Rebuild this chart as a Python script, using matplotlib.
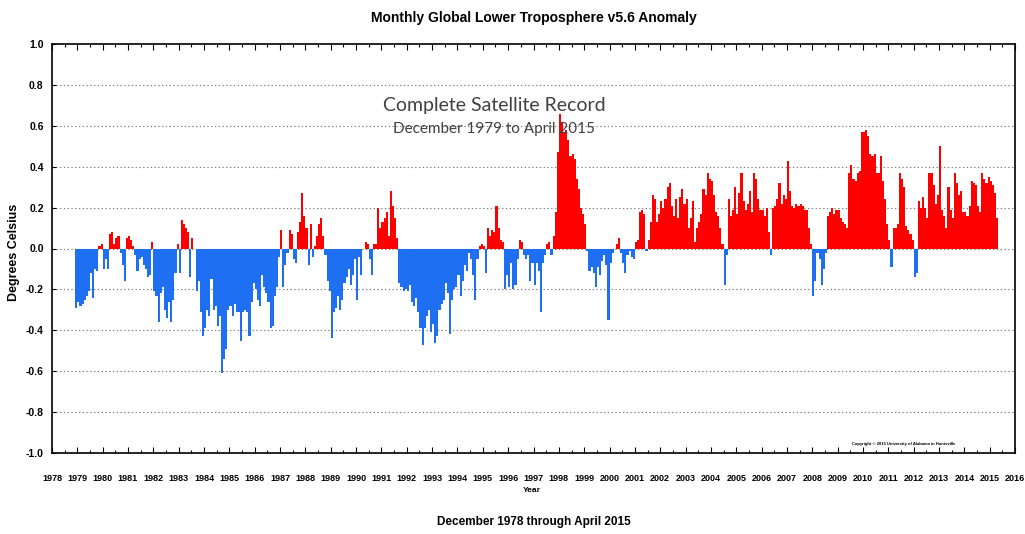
import matplotlib
matplotlib.use("Agg")
import matplotlib.pyplot as plt
import numpy as np
from matplotlib import font_manager

# monthly anomalies (deg C), Dec 1978 .. Apr 2015
anom_1970s = [-0.29,
              -0.26, -0.28, -0.27, -0.25, -0.23, -0.21, -0.12, -0.24, -0.10, -0.11, 0.01, 0.02]
anom_1980s = [-0.10, -0.05, -0.10, 0.07, 0.08, 0.02, 0.05, 0.06, -0.02, -0.08, -0.16, 0.05,
              0.06, 0.04, 0.01, -0.03, -0.11, -0.05, -0.04, -0.08, -0.10, -0.14, -0.13, 0.03,
              -0.21, -0.23, -0.36, -0.22, -0.19, -0.30, -0.34, -0.26, -0.36, -0.25, -0.12, 0.02,
              -0.12, 0.14, 0.12, 0.10, 0.08, -0.14, 0.05, 0.00, -0.21, -0.16, -0.31, -0.43,
              -0.39, -0.30, -0.33, -0.15, -0.30, -0.28, -0.38, -0.33, -0.61, -0.54, -0.49, -0.30,
              -0.28, -0.33, -0.27, -0.31, -0.31, -0.45, -0.31, -0.30, -0.31, -0.43, -0.26, -0.17,
              -0.20, -0.25, -0.28, -0.13, -0.19, -0.22, -0.26, -0.39, -0.38, -0.23, -0.19, -0.04,
              0.09, -0.19, -0.08, -0.02, 0.09, 0.07, -0.05, -0.07, 0.08, 0.13, 0.27, 0.16,
              0.10, -0.08, 0.12, -0.04, 0.01, 0.06, 0.12, 0.15, 0.06, -0.03, -0.16, -0.21,
              -0.44, -0.31, -0.29, -0.23, -0.30, -0.25, -0.17, -0.14, -0.10, -0.18, -0.13, -0.05]
anom_1990s = [-0.25, -0.04, -0.13, 0.00, 0.03, 0.02, -0.05, -0.13, 0.02, 0.02, 0.20, 0.10,
              0.13, 0.15, 0.18, 0.06, 0.28, 0.21, 0.15, 0.05, -0.17, -0.19, -0.21, -0.20,
              -0.21, -0.18, -0.26, -0.28, -0.24, -0.31, -0.39, -0.47, -0.39, -0.33, -0.30, -0.41,
              -0.37, -0.46, -0.43, -0.30, -0.27, -0.25, -0.17, -0.22, -0.42, -0.25, -0.20, -0.19,
              -0.13, -0.23, -0.16, -0.08, -0.11, -0.02, -0.05, -0.13, -0.25, -0.05, 0.01, 0.02,
              0.01, -0.12, 0.10, 0.06, 0.09, 0.08, 0.21, 0.10, 0.04, 0.03, -0.20, -0.13,
              -0.19, -0.07, -0.20, -0.18, -0.05, 0.04, 0.03, -0.03, -0.05, -0.03, -0.16, -0.07,
              -0.18, -0.07, -0.11, -0.31, -0.07, -0.03, 0.02, 0.03, -0.03, 0.06, 0.18, 0.47,
              0.66, 0.62, 0.57, 0.58, 0.53, 0.45, 0.46, 0.44, 0.34, 0.29, 0.20, 0.17,
              0.12, -0.01, -0.11, -0.09, -0.12, -0.19, -0.09, -0.13, -0.06, -0.03, -0.08, -0.35]
anom_2000s = [-0.07, -0.02, 0.00, 0.02, 0.05, -0.02, -0.07, -0.12, -0.03, -0.01, -0.04, -0.05,
              0.03, 0.04, 0.18, 0.19, 0.17, -0.01, 0.04, 0.13, 0.26, 0.24, 0.13, 0.17,
              0.23, 0.20, 0.24, 0.30, 0.32, 0.21, 0.16, 0.24, 0.15, 0.25, 0.29, 0.22,
              0.24, 0.10, 0.15, 0.23, 0.03, 0.10, 0.13, 0.17, 0.29, 0.26, 0.37, 0.34,
              0.33, 0.26, 0.18, 0.16, 0.10, 0.02, -0.18, -0.03, 0.24, 0.16, 0.19, 0.30,
              0.17, 0.27, 0.37, 0.23, 0.19, 0.22, 0.28, 0.18, 0.37, 0.34, 0.24, 0.19,
              0.19, 0.16, 0.20, 0.08, -0.03, 0.20, 0.21, 0.24, 0.32, 0.22, 0.26, 0.24,
              0.43, 0.28, 0.21, 0.20, 0.22, 0.21, 0.22, 0.21, 0.19, 0.19, 0.10, 0.02,
              -0.23, -0.16, -0.02, -0.05, -0.18, -0.10, -0.02, 0.16, 0.18, 0.20, 0.17, 0.19,
              0.19, 0.15, 0.13, 0.12, 0.10, 0.37, 0.41, 0.34, 0.33, 0.37, 0.38, 0.57]
anom_2010s = [0.57, 0.58, 0.55, 0.46, 0.45, 0.46, 0.37, 0.37, 0.45, 0.33, 0.24, 0.12,
              0.04, -0.09, 0.10, 0.10, 0.12, 0.37, 0.34, 0.30, 0.11, 0.09, 0.07, 0.04,
              -0.14, -0.12, 0.23, 0.20, 0.25, 0.20, 0.15, 0.37, 0.37, 0.31, 0.22, 0.26,
              0.50, 0.19, 0.16, 0.10, 0.30, 0.19, 0.15, 0.37, 0.32, 0.26, 0.28, 0.18,
              0.18, 0.16, 0.21, 0.33, 0.32, 0.31, 0.21, 0.18, 0.37, 0.34, 0.32, 0.35,
              0.33, 0.31, 0.27, 0.15]

year_ticks = list(range(1978, 2017))
y_ticks = [-1.0, -0.8, -0.6, -0.4, -0.2, 0.0, 0.2, 0.4, 0.6, 0.8, 1.0]

vals = np.array(anom_1970s + anom_1980s + anom_1990s + anom_2000s + anom_2010s)
# month index -> decimal year, first bar is December 1978
x = 1978 + 11 / 12 + np.arange(len(vals)) / 12

names = {f.name for f in font_manager.fontManager.ttflist}
narrow = 'Liberation Sans Narrow' if 'Liberation Sans Narrow' in names else 'Liberation Sans'

RED = '#ff0000'
BLUE = '#1f6ff2'

fig = plt.figure(figsize=(10.25, 5.34), dpi=100)
ax = fig.add_axes([52 / 1025, 1 - 453 / 534, (1015 - 52) / 1025, (453 - 44) / 534])

colors = [RED if v >= 0 else BLUE for v in vals]
ax.bar(x, vals, width=1 / 12, align='edge', color=colors, linewidth=0, zorder=2)

ax.set_xlim(1978, 2016)
ax.set_ylim(-1, 1)
ax.set_yticks(y_ticks)
ax.set_yticklabels(['%.1f' % v for v in y_ticks], fontfamily=narrow, fontweight='bold', fontsize=7.5)
ax.set_xticks(year_ticks)
ax.set_xticks([y + 0.5 for y in year_ticks[:-1]], minor=True)
ax.set_xticklabels([str(y) for y in year_ticks], fontfamily=narrow, fontweight='bold', fontsize=6.5)

ax.tick_params(axis='x', which='both', direction='in', top=True, bottom=True)
ax.tick_params(axis='x', which='major', length=4, width=0.8, pad=15)
ax.tick_params(axis='x', which='minor', length=2, width=0.8)
ax.tick_params(axis='y', which='major', direction='in', length=3, width=0.8, pad=6)

for s in ax.spines.values():
    s.set_linewidth(1.2)

for v in y_ticks[1:-1]:
    ax.axhline(v, color='#7a7a7a', lw=0.8, ls=(0, (1.2, 2.2)), zorder=1)

fig.text(534 / 1025, 1 - 18 / 534, 'Monthly Global Lower Troposphere v5.6 Anomaly',
         ha='center', va='center', fontsize=10, fontweight='bold', fontfamily=narrow)
fig.text(14 / 1025, 1 - 252 / 534, 'Degrees Celsius', rotation=90, ha='center', va='center',
         fontsize=9, fontweight='bold', fontfamily='Liberation Sans')
fig.text(532 / 1025, 1 - 491 / 534, 'Year', ha='center', va='center',
         fontsize=6, fontweight='bold', fontfamily=narrow)
fig.text(534 / 1025, 1 - 522 / 534, 'December 1978 through April 2015', ha='center', va='center',
         fontsize=8.5, fontweight='bold', fontfamily=narrow)

fig.text(494 / 1025, 1 - 106 / 534, 'Complete Satellite Record', ha='center', va='center',
         fontsize=14, color='#404040', fontfamily='Lato')
fig.text(494 / 1025, 1 - 129 / 534, 'December 1979 to April 2015', ha='center', va='center',
         fontsize=11, color='#404040', fontfamily='Lato')
fig.text(904 / 1025, 1 - 444 / 534, 'Copyright \u00a9 2015 University of Alabama in Huntsville',
         ha='center', va='center', fontsize=3, fontweight='bold', fontfamily=narrow)

fig.savefig('out.png', dpi=100)
